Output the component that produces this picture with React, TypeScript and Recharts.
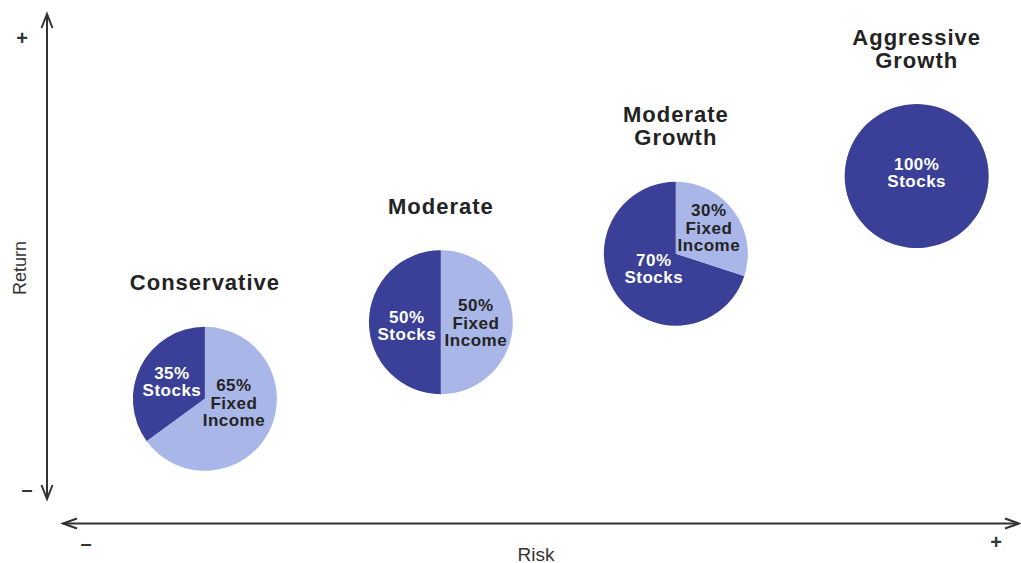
import React from 'react';
import { ScatterChart, Scatter, XAxis, YAxis, Sector } from 'recharts';

// ---- data ----
const profiles = ['Conservative', 'Moderate', 'Moderate Growth', 'Aggressive Growth'];
const riskValues = [1.63, 4.05, 6.46, 8.93];
const returnValues = [2.43, 3.93, 5.27, 6.79];
const stockPct = [35, 50, 70, 100];
const fixedIncomePct = [65, 50, 30, 0];
const axisTicksY = ['+', '–'];
const axisTicksX = ['–', '+'];

// ---- styles / layout ----
const DARK = '#3a3f97';
const LIGHT = '#a9b6e8';
const TEXT = '#232323';
const AXIS = '#333333';
const FONT = '"Liberation Sans", Arial, Helvetica, sans-serif';
const RADIUS = 72;
// label offsets relative to pie centre (first line centre)
const stockLabelOffsets = [[-33, -25], [-34, -4.5], [-22, 7], [0, -12]];
const fixedLabelOffsets = [[29, -13], [35, -16.5], [33, -43], [0, 0]];

const chartData = profiles.map((name, i) => ({
  name,
  idx: i,
  risk: riskValues[i],
  ret: returnValues[i],
  stocks: stockPct[i],
  fixed: fixedIncomePct[i],
}));

const PieShape = (props: any) => {
  const { cx, cy, payload } = props;
  if (cx == null || cy == null || !payload) return null;
  const i = payload.idx;
  const stockEnd = 90 + payload.stocks * 3.6;
  const titleLines = String(payload.name).split(' ');
  const lines = titleLines.length > 1 ? titleLines : [payload.name];
  const lastY = cy - 116;
  const so = stockLabelOffsets[i];
  const fo = fixedLabelOffsets[i];
  const labelStyle = { fontFamily: FONT, fontWeight: 700, fontSize: 17, letterSpacing: 0.5 } as any;
  return (
    <g>
      {payload.stocks > 0 && (
        <Sector cx={cx} cy={cy} innerRadius={0} outerRadius={RADIUS} startAngle={90} endAngle={stockEnd} fill={DARK} stroke="none" />
      )}
      {payload.fixed > 0 && (
        <Sector cx={cx} cy={cy} innerRadius={0} outerRadius={RADIUS} startAngle={stockEnd} endAngle={450} fill={LIGHT} stroke="none" />
      )}
      {lines.map((ln: string, k: number) => (
        <text
          key={k}
          x={cx}
          y={lastY - (lines.length - 1 - k) * 23}
          textAnchor="middle"
          dominantBaseline="central"
          style={{ fontFamily: FONT, fontWeight: 700, fontSize: 22, letterSpacing: 1 }}
          fill={TEXT}
        >
          {ln}
        </text>
      ))}
      {payload.stocks > 0 && (
        <g>
          <text x={cx + so[0]} y={cy + so[1]} textAnchor="middle" dominantBaseline="central" style={labelStyle} fill="#ffffff">
            {payload.stocks}%
          </text>
          <text x={cx + so[0]} y={cy + so[1] + 17} textAnchor="middle" dominantBaseline="central" style={labelStyle} fill="#ffffff">
            Stocks
          </text>
        </g>
      )}
      {payload.fixed > 0 && (
        <g>
          <text x={cx + fo[0]} y={cy + fo[1]} textAnchor="middle" dominantBaseline="central" style={labelStyle} fill={TEXT}>
            {payload.fixed}%
          </text>
          <text x={cx + fo[0]} y={cy + fo[1] + 17.5} textAnchor="middle" dominantBaseline="central" style={labelStyle} fill={TEXT}>
            Fixed
          </text>
          <text x={cx + fo[0]} y={cy + fo[1] + 35} textAnchor="middle" dominantBaseline="central" style={labelStyle} fill={TEXT}>
            Income
          </text>
        </g>
      )}
    </g>
  );
};

const endStyle = { fontFamily: FONT, fontSize: 20, fontWeight: 700 } as any;

const AxesOverlay = () => (
  <svg width={1021} height={563} style={{ position: 'absolute', left: 0, top: 0, pointerEvents: 'none' }}>
    {/* vertical axis */}
    <line x1={47} y1={14} x2={47} y2={499} stroke={AXIS} strokeWidth={2} />
    <polyline points="41.5,28 47,14 52.5,28" fill="none" stroke={AXIS} strokeWidth={2} />
    <polyline points="41.5,485 47,499 52.5,485" fill="none" stroke={AXIS} strokeWidth={2} />
    {/* horizontal axis */}
    <line x1={63} y1={523.5} x2={1019} y2={523.5} stroke={AXIS} strokeWidth={2} />
    <polyline points="77,518.5 63,523.5 77,528.5" fill="none" stroke={AXIS} strokeWidth={2} />
    <polyline points="1005,518.5 1019,523.5 1005,528.5" fill="none" stroke={AXIS} strokeWidth={2} />
    {/* ends */}
    <text x={22} y={37.5} textAnchor="middle" dominantBaseline="central" style={endStyle} fill={AXIS}>{axisTicksY[0]}</text>
    <text x={27} y={489} textAnchor="middle" dominantBaseline="central" style={endStyle} fill={AXIS}>{axisTicksY[1]}</text>
    <text x={86} y={543} textAnchor="middle" dominantBaseline="central" style={endStyle} fill={AXIS}>{axisTicksX[0]}</text>
    <text x={996} y={542} textAnchor="middle" dominantBaseline="central" style={endStyle} fill={AXIS}>{axisTicksX[1]}</text>
    {/* titles */}
    <text x={20} y={268} textAnchor="middle" dominantBaseline="central" transform="rotate(-90 20 268)" style={{ fontFamily: FONT, fontSize: 18 }} fill={AXIS}>Return</text>
    <text x={536} y={554} textAnchor="middle" dominantBaseline="central" style={{ fontFamily: FONT, fontSize: 19 }} fill={AXIS}>Risk</text>
  </svg>
);

export default function App() {
  return (
    <div style={{ position: 'absolute', left: 0, top: 0, width: 1021, height: 563, background: '#ffffff' }}>
      <ScatterChart width={1021} height={563} margin={{ top: 12, right: 0, bottom: 40, left: 46 }}>
        <XAxis type="number" dataKey="risk" domain={[0, 10]} hide />
        <YAxis type="number" dataKey="ret" domain={[0, 10]} hide />
        <Scatter data={chartData} shape={PieShape} isAnimationActive={false} />
      </ScatterChart>
      <AxesOverlay />
    </div>
  );
}
